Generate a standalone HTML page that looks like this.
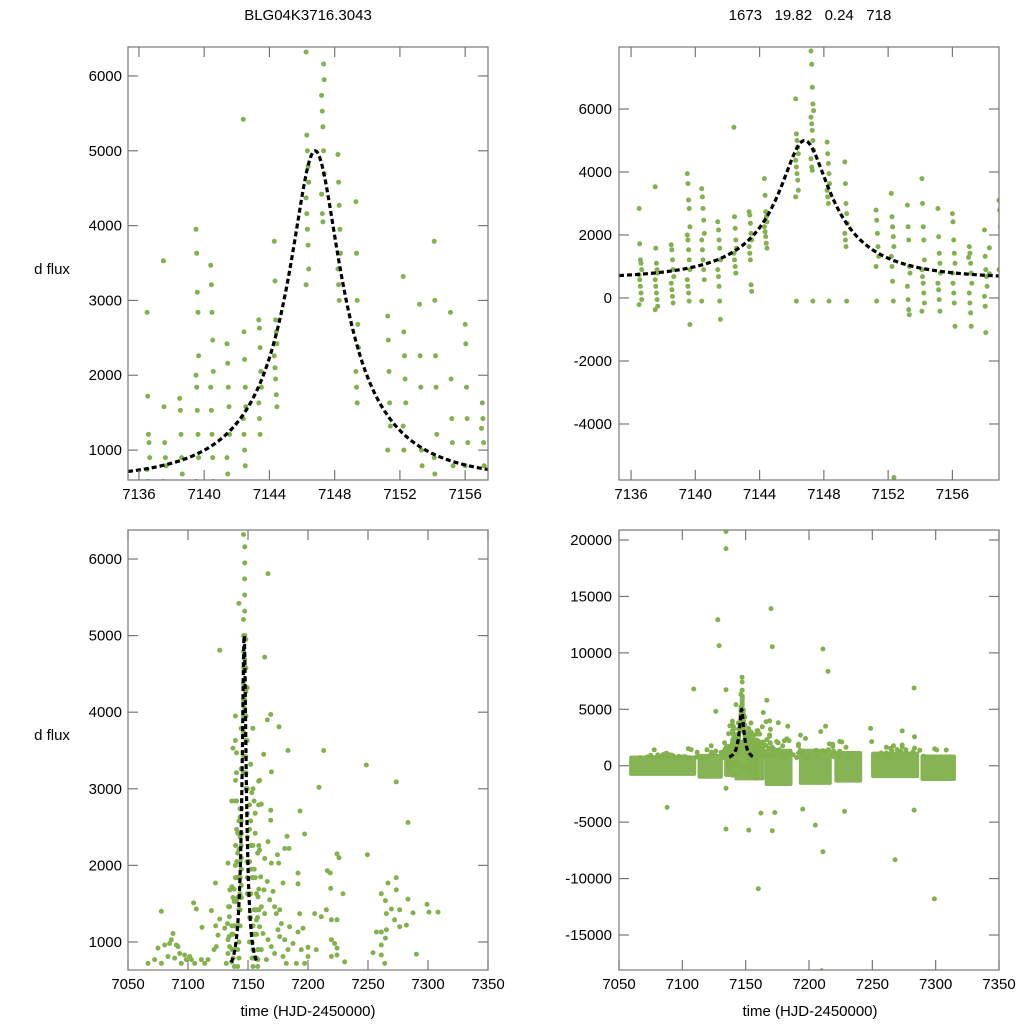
<!DOCTYPE html>
<html><head><meta charset="utf-8">
<style>
html,body{margin:0;padding:0;background:#fff;width:1024px;height:1024px;overflow:hidden;}
svg{display:block;font-family:"Liberation Sans",sans-serif;}
</style></head>
<body>
<svg id="fig" width="1024" height="1024" viewBox="0 0 1024 1024" xmlns="http://www.w3.org/2000/svg">
<text x="308" y="20" font-size="15" text-anchor="middle">BLG04K3716.3043</text>
<text x="810" y="20" font-size="15" text-anchor="middle" xml:space="preserve">1673   19.82   0.24   718</text>
<text x="52" y="274" font-size="15" text-anchor="middle">d flux</text>
<text x="52" y="740" font-size="15" text-anchor="middle">d flux</text>
<text x="308" y="1016" font-size="15" text-anchor="middle">time (HJD-2450000)</text>
<text x="810" y="1016" font-size="15" text-anchor="middle">time (HJD-2450000)</text>
</svg>
<script>
// ---- nightly photometry around the event (time of night, fluxes) ----
const nightT = [7136.5,7137.5,7138.5,7139.5,7140.4,7141.4,7142.4,7143.35,7144.3,7146.25,7147.2,7148.2,7149.3,7151.25,7152.2,7153.2,7154.1,7155.1,7156.0,7157.05,7158.0,7158.9];
const nightF = [
 [2840,1720,1210,1100,900,740,580,370,160,-50,-210],
 [3530,1580,1100,900,790,580,370,160,-50,-260,-370],
 [1690,1530,1210,900,680,470,260,50,-160],
 [3950,3630,3110,2840,2260,2000,1840,1530,1210,900,580,370,160,-100,-840],
 [3470,3210,2840,2470,2050,1840,1530,1210,900,580,-100],
 [2420,2160,1840,1580,1210,900,680,370,-100,-680],
 [5420,2580,2210,1840,1580,1420,1210,1000,790],
 [2740,2630,2370,2050,1840,1630,1420,1210,420,210],
 [3790,3260,2740,2580,2420,2260,2100,1950,1740,1580],
 [6320,5210,5000,4790,4580,4370,4160,3950,3740,3420,3210,-100],
 [7840,7420,6690,6160,5950,5740,5530,5320,5000,4690,4420,4160,4050,-100],
 [4950,4580,4270,3950,3630,3420,3210,3000,-100],
 [4320,3630,3000,2680,2370,2050,1840,1630,-100],
 [2790,2470,2050,1630,1320,1000,-100],
 [3320,2580,2260,1950,1630,1320,1000,530,-100,-5700],
 [2950,2260,1840,1000,790,370,-50,-370,-530],
 [3790,3000,2260,1840,1210,900,680,470,160,-160,-420],
 [2840,1950,1420,1100,790,470,260,-50,-420],
 [2680,2420,1840,1420,1100,790,470,160,-160,-900],
 [1630,1420,1100,790,470,160,-160,-470,-900],
 [2160,1320,900,680,370,50,-260,-1100],
 [3100,2790,2260,1690,1420,900]
];
// ---- other-season individual points ----
const extraT = [7166.7,7126.4,7163.9,7168.9,7166.1,7175.8,7183.3,7213.1,7248.6,7273.6,7209.2,7163.1,7169.5,7193.3,7283.3,7197.2,7182.5,7180.6,7184.2,7224.2,7225.8,7249.5,7174.5,7175.6,7168.9,7168.9,7161.1,7159.7,7216.1,7218.6,7218.9,7191.7,7191.7,7179.2,7229.2,7266.7,7273.6,7273.6,7261.1,7264.5,7283.3,7299.2,7300.8,7308.3,7287.5,7276.4,7269.5,7265.3,7272.2,7282.0,7276.4,7265.3,7257.0,7261.1,7264.5,7261.1,7254.2,7261.1,7263.9,7290.3,7077.8,7104.7,7106.9,7119.5,7122.8,7111.7,7123.1,7126.4,7125.0,7123.6,7121.7,7116.7,7113.9,7111.1,7087.5,7084.7,7080.6,7075.0,7091.7,7093.1,7097.2,7101.4,7088.9,7083.3,7072.2,7066.7,7077.8,7105.6,7094.4,7086.1,7090.3,7098.6,7102.8,7158.3,7161.1,7163.9,7157.0,7159.7,7162.5,7166.7,7169.4,7172.2,7165.3,7175.0,7177.8,7180.6,7183.3,7181.9,7173.6,7168.1,7170.8,7176.4,7179.2,7161.1,7158.3,7163.3,7166.1,7160.6,7169.4,7163.9,7159.7,7166.7,7172.2,7176.4,7184.7,7187.5,7194.4,7200.0,7190.3,7197.2,7205.6,7211.1,7215.3,7219.5,7224.2,7219.5,7222.2,7224.2,7219.5,7224.2,7230.6,7200.0,7206.9,7193.1,7195.8,7191.7,7133.3,7134.9,7133.8,7134.7,7132.9,7134.2,7134.7,7133.3,7131.9,7130.6,7133.3,7134.5,7134.5,7134.5,7170,7128,7129,7171,7211,7215,7283,7134.5,7109,7162,7171,7205,7134.5,7211,7268,7283,7173,7195,7228,7088,7134.5,7160,7299,7210];
const extraF = [5810,4810,4720,3970,3900,3810,3500,3500,3310,3090,3020,3450,3220,2710,2560,2410,2380,2220,2220,2150,2100,2140,2140,2030,2720,2590,2800,3110,1930,1900,1700,1900,1760,1770,1630,1770,1840,1680,1630,1540,1560,1490,1390,1390,1380,1420,1430,1370,1290,1220,1200,1160,1130,1130,1050,960,860,830,720,840,1400,1510,1430,1410,1770,1190,1210,1300,1090,940,900,770,720,770,1110,980,960,920,940,850,830,810,790,810,770,720,720,720,720,1030,960,770,770,1590,1460,1370,1290,1200,1110,1030,940,850,770,1160,1240,1030,900,720,1370,1550,1660,1070,810,900,770,1680,1790,1850,2030,2090,2200,2310,1460,1420,1200,980,900,810,720,720,1370,1330,1420,1290,1290,1030,980,920,810,830,740,930,900,1370,1180,1130,2030,1680,1460,1460,1240,1070,940,850,720,1180,1030,1330,20750,19240,13920,12940,10640,10550,10340,8360,6890,6740,6800,-4200,-5760,-5260,-5610,-7620,-8330,-3930,-4140,-3840,-4050,-3690,-2010,-10900,-11800,-18170,-8600];
// ---- dense baseline seasons (summary of the many baseline points) ----
const bandStart = [7058,7112,7133,7141,7165,7192,7220,7249,7288];
const bandEnd   = [7111,7132,7141,7165,7187,7218,7242,7287,7316];
const bandLow   = [-900,-1150,-1000,-1300,-1800,-1700,-1500,-1100,-1350];
const bandHigh  = [900,1050,1400,2300,1500,1500,1300,1250,1000];
// ---- model parameters and ticks ----
const modelT0 = 7146.8, modelU0 = 0.24, modelTE = 6.5, modelBase = 600, modelAmp = 4400;
const ticksZoomX = [7136,7140,7144,7148,7152,7156];
const ticksFullX = [7050,7100,7150,7200,7250,7300,7350];
const ticksTLY = [1000,2000,3000,4000,5000,6000];
const ticksTRY = [-4000,-2000,0,2000,4000,6000];
const ticksBLY = [1000,2000,3000,4000,5000,6000];
const ticksBRY = [-15000,-10000,-5000,0,5000,10000,15000,20000];

const NS = "http://www.w3.org/2000/svg";
const svg = document.getElementById('fig');
function mk(tag, attrs, parent){const e=document.createElementNS(NS,tag);for(const k in attrs)e.setAttribute(k,attrs[k]);(parent||svg).appendChild(e);return e;}

const panels = [
 {id:'top-left', x0:128,x1:488,y0:47,y1:480, tmin:7135.33,tmax:7157.4, fmin:600,fmax:6387, xt:ticksZoomX, yt:ticksTLY, lblRight:122, band:false, curve:[7135.33,7157.4]},
 {id:'top-right', x0:619,x1:999,y0:47,y1:480, tmin:7135.25,tmax:7158.9, fmin:-5778,fmax:7968, xt:ticksZoomX, yt:ticksTRY, lblRight:612, band:false, curve:[7135.25,7158.9]},
 {id:'bottom-left', x0:128,x1:488,y0:530,y1:970, tmin:7050,tmax:7350, fmin:634,fmax:6379, xt:ticksFullX, yt:ticksBLY, lblRight:122, band:false, curve:[7136,7157]},
 {id:'bottom-right', x0:619,x1:999,y0:530,y1:970, tmin:7050,tmax:7350, fmin:-18100,fmax:20887, xt:ticksFullX, yt:ticksBRY, lblRight:612, band:true, curve:[7137,7156]}
];

function model(t){
  const tau=(t-modelT0)/modelTE;
  const u=Math.sqrt(modelU0*modelU0+tau*tau);
  const A=(u*u+2)/(u*Math.sqrt(u*u+4));
  const u0=modelU0, A0=(u0*u0+2)/(u0*Math.sqrt(u0*u0+4));
  return modelBase+modelAmp*(A-1)/(A0-1);
}

panels.forEach((p,pi)=>{
  const sx=t=>p.x0+(t-p.tmin)/(p.tmax-p.tmin)*(p.x1-p.x0);
  const sy=f=>p.y1-(f-p.fmin)/(p.fmax-p.fmin)*(p.y1-p.y0);
  const g=mk('g',{});
  
  
  const cid='clip'+pi;
  const cp=mk('clipPath',{id:cid},g);
  mk('rect',{x:p.x0,y:p.y0,width:p.x1-p.x0,height:p.y1-p.y0},cp);
  const plot=mk('g',{'clip-path':'url(#'+cid+')'},g);
  
  
  if(p.band){
    for(let i=0;i<bandStart.length;i++){
      const r=mk('rect',{x:sx(bandStart[i]),y:sy(bandHigh[i]),width:sx(bandEnd[i])-sx(bandStart[i]),height:sy(bandLow[i])-sy(bandHigh[i]),rx:2,fill:'#86b353'},plot);
      
      
    }
  }
  const pts=[];
  nightT.forEach((t,i)=>nightF[i].forEach((f,k)=>pts.push([t+(k%5)*0.04,f])));
  extraT.forEach((t,i)=>pts.push([t,extraF[i]]));
  pts.forEach(([t,f])=>{
    if(t<p.tmin-0.5||t>p.tmax+0.5||f<p.fmin-300||f>p.fmax+300) return;
    const c=mk('circle',{cx:sx(t).toFixed(1),cy:sy(f).toFixed(1),r:2.5,fill:'#82b14d'},plot);
    
    
  });
  let d='';
  const n=300;
  for(let i=0;i<=n;i++){const t=p.curve[0]+(p.curve[1]-p.curve[0])*i/n;d+=(i?'L':'M')+sx(t).toFixed(2)+','+Math.min(p.y1+5,sy(model(t))).toFixed(2);}
  const path=mk('path',{d:d,fill:'none',stroke:'#000','stroke-width':3.2,'stroke-dasharray':'5,3'},plot);
  
  
  const fr=mk('rect',{x:p.x0,y:p.y0,width:p.x1-p.x0,height:p.y1-p.y0,fill:'none',stroke:'#777','stroke-width':1.2},g);
  
  
  p.xt.forEach(v=>{
    const x=sx(v);
    mk('line',{x1:x,x2:x,y1:p.y1,y2:p.y1-10,stroke:'#777','stroke-width':1.2},g);
    mk('line',{x1:x,x2:x,y1:p.y0,y2:p.y0+10,stroke:'#777','stroke-width':1.2},g);
    const tx=mk('text',{x:x,y:p.y1+19,'font-size':15,'text-anchor':'middle'},g);
    tx.textContent=v;
    
    
  });
  p.yt.forEach(v=>{
    const y=sy(v);
    mk('line',{x1:p.x0,x2:p.x0+10,y1:y,y2:y,stroke:'#777','stroke-width':1.2},g);
    mk('line',{x1:p.x1,x2:p.x1-10,y1:y,y2:y,stroke:'#777','stroke-width':1.2},g);
    const ty=mk('text',{x:p.lblRight,y:y+5,'font-size':15,'text-anchor':'end'},g);
    ty.textContent=v;
    
    
  });
});
</script>
</body></html>
